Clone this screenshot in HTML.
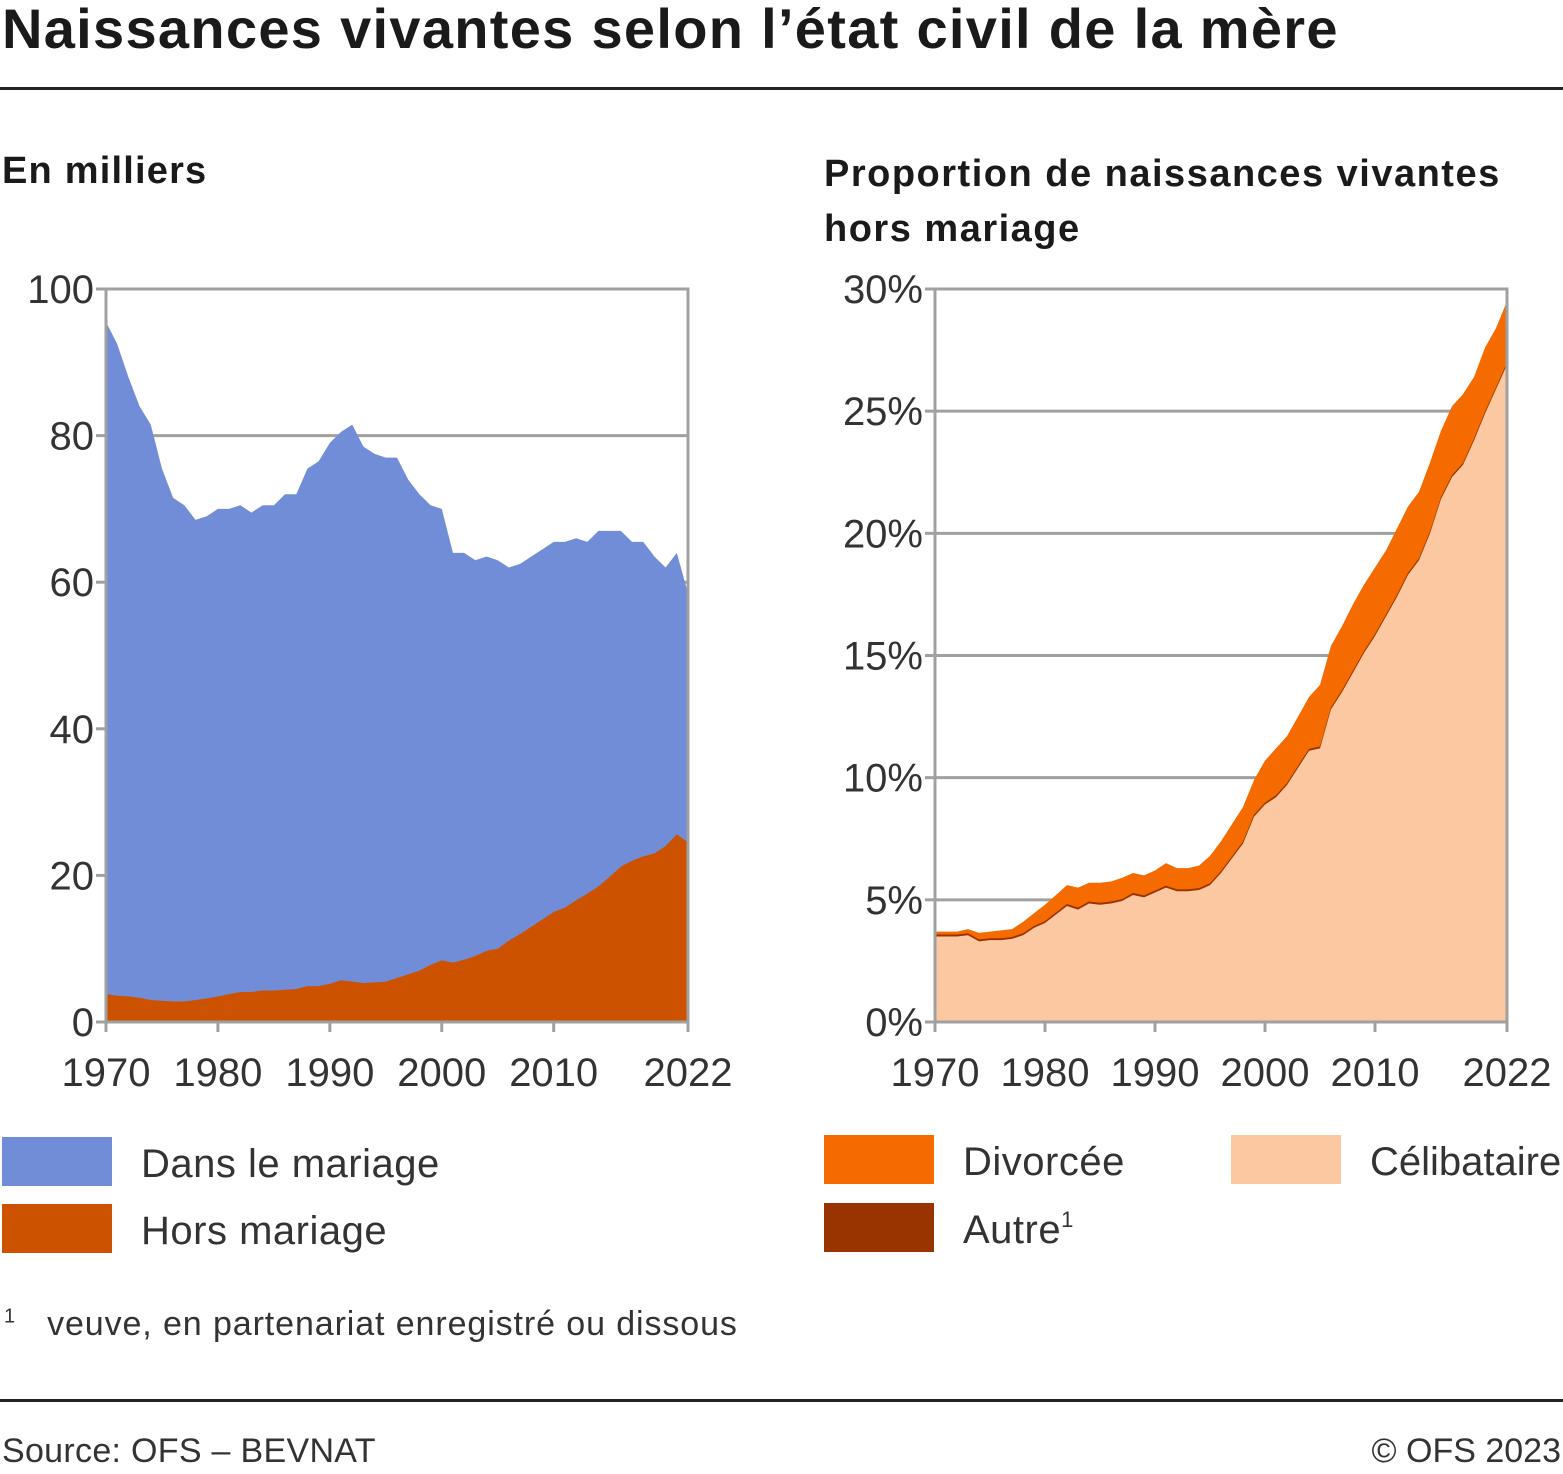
<!DOCTYPE html>
<html><head><meta charset="utf-8"><style>
body{margin:0;background:#fff;width:1563px;height:1474px;overflow:hidden;font-family:"Liberation Sans",sans-serif;color:#1a1a1a}
.t{position:absolute;white-space:nowrap}
</style></head><body>
<div class="t" style="left:2px;top:-4px;font-size:56px;font-weight:bold;letter-spacing:1.3px">Naissances vivantes selon l’état civil de la mère</div>
<div style="position:absolute;left:0;top:87px;width:1563px;height:3px;background:#222"></div>
<div class="t" style="left:2px;top:150px;font-size:38px;font-weight:bold;letter-spacing:1.2px">En milliers</div>
<div class="t" style="left:824px;top:147px;font-size:38px;font-weight:bold;line-height:55px;letter-spacing:1.5px">Proportion de naissances vivantes<br>hors mariage</div>
<svg id="c" width="1563" height="1474" style="position:absolute;left:0;top:0"></svg>
<div style="position:absolute;left:0;top:1399px;width:1563px;height:3px;background:#222"></div>
<div class="t" style="left:4px;top:1305px;font-size:34px;color:#333;letter-spacing:0.9px"><sup style="font-size:20px">1</sup>&nbsp;&nbsp;&nbsp;veuve, en partenariat enregistré ou dissous</div>
<div class="t" style="left:2px;top:1432px;font-size:34px;color:#333;letter-spacing:0.3px">Source: OFS – BEVNAT</div>
<div class="t" style="right:2px;top:1432px;font-size:34px;color:#333">© OFS 2023</div>
<script>
const years=[];for(let y=1970;y<=2022;y++)years.push(y);
const totalBirths=[95.5,92.5,88,84,81.5,75.5,71.5,70.5,68.5,69,70,70,70.5,69.5,70.5,70.5,72,72,75.5,76.5,79,80.5,81.5,78.5,77.5,77,77,74,72,70.5,70,64,64,63,63.5,63,62,62.5,63.5,64.5,65.5,65.5,66,65.5,67,67,67,65.5,65.5,63.5,62,64,58.5];
const horsMariage=[3.8,3.6,3.5,3.3,3.0,2.9,2.8,2.8,3.0,3.2,3.5,3.8,4.1,4.1,4.3,4.3,4.4,4.5,4.9,4.9,5.2,5.7,5.5,5.3,5.4,5.5,6.0,6.5,7.0,7.8,8.4,8.1,8.5,9.0,9.7,10.0,11.1,12.0,13.0,14.0,15.0,15.6,16.6,17.5,18.5,19.8,21.2,22.0,22.6,23.0,24.0,25.6,24.5];
const celibataire=[3.5,3.5,3.5,3.55,3.3,3.35,3.35,3.4,3.55,3.85,4.05,4.4,4.75,4.6,4.85,4.8,4.85,4.95,5.2,5.1,5.3,5.5,5.35,5.35,5.4,5.6,6.1,6.7,7.3,8.4,8.9,9.2,9.7,10.4,11.1,11.2,12.8,13.5,14.3,15.1,15.8,16.6,17.4,18.3,18.9,20.0,21.4,22.3,22.8,23.8,24.9,25.9,26.9];
const autre=Array(53).fill(0.08);
const totalPct=[3.7,3.7,3.7,3.8,3.65,3.7,3.75,3.8,4.1,4.45,4.8,5.2,5.6,5.5,5.7,5.7,5.75,5.9,6.1,6.0,6.2,6.5,6.3,6.3,6.4,6.8,7.4,8.1,8.8,9.9,10.7,11.2,11.7,12.5,13.3,13.8,15.4,16.2,17.1,17.9,18.6,19.3,20.2,21.1,21.7,22.9,24.2,25.2,25.7,26.4,27.6,28.4,29.5];
const leftTicks=[0,20,40,60,80,100];
const rightTicks=[0,5,10,15,20,25,30];
const xTickYears=[1970,1980,1990,2000,2010,2022];

const svg=document.getElementById('c');const NS='http://www.w3.org/2000/svg';
function mk(t,a,p){const e=document.createElementNS(NS,t);for(const k in a)e.setAttribute(k,a[k]);(p||svg).appendChild(e);return e;}
const Y0=1022,Y1=289;
function chart(x0,x1,ymax,ticks,fmt,layers,name){
  const g=mk('g',{});
  
  
  const X=y=>x0+(y-1970)*(x1-x0)/52, Yv=v=>Y0-v*(Y0-Y1)/ymax;
  ticks.forEach(t=>{const l=mk('line',{x1:x0,x2:x1,y1:Yv(t),y2:Yv(t),stroke:'#a0a0a0','stroke-width':3},g);
    
    mk('line',{x1:x0-10,x2:x0,y1:Yv(t),y2:Yv(t),stroke:'#a0a0a0','stroke-width':3},g);
    const tx=mk('text',{x:x0-12,y:Yv(t)+14,'text-anchor':'end','font-size':40,fill:'#333','font-family':'Liberation Sans'},g);tx.textContent=fmt(t);
    });
  layers.forEach(([lo,hi,col,nm])=>{
    let d='M'+X(years[0])+','+Yv(hi[0]);
    years.forEach((y,i)=>d+='L'+X(y)+','+Yv(hi[i]));
    for(let i=years.length-1;i>=0;i--)d+='L'+X(years[i])+','+Yv(lo?lo[i]:0);
    const p=mk('path',{d:d+'Z',fill:col},g);
    });
  mk('rect',{x:x0,y:Y1,width:x1-x0,height:Y0-Y1,fill:'none',stroke:'#a0a0a0','stroke-width':3},g);
  xTickYears.forEach(y=>{mk('line',{x1:X(y),x2:X(y),y1:Y0,y2:Y0+10,stroke:'#a0a0a0','stroke-width':3},g);
    const tx=mk('text',{x:X(y),y:Y0+64,'text-anchor':'middle','font-size':40,fill:'#333','font-family':'Liberation Sans'},g);tx.textContent=y;
    });
}
chart(106,688,100,leftTicks,t=>t,[[null,totalBirths,'#728dd7','area-dans-le-mariage'],[null,horsMariage,'#cc5200','area-hors-mariage']],'left-chart');
const celAut=celibataire.map((v,i)=>v+autre[i]);
chart(935,1507,30,rightTicks,t=>t+'%',[[null,totalPct,'#f56b00','area-divorcee'],[null,celAut,'#993300','area-autre'],[null,celibataire,'#fbc8a1','area-celibataire']],'right-chart');
const leg=[[2,1137,'#728dd7','Dans le mariage'],[2,1204,'#cc5200','Hors mariage'],[824,1135,'#f56b00','Divorcée'],[824,1203,'#993300','Autre'],[1231,1135,'#fbc8a1','Célibataire']];
leg.forEach(([x,y,c,t])=>{const g=mk('g',{});
  
  mk('rect',{x:x,y:y,width:110,height:49,fill:c},g);
  const tx=mk('text',{x:x+139,y:y+40,'font-size':40,fill:'#333','font-family':'Liberation Sans','letter-spacing':t==='Célibataire'?0:0.5},g);tx.textContent=t;
  if(t==='Autre'){const s=mk('tspan',{dy:-16,'font-size':22},tx);s.textContent='1';}});
</script>
</body></html>
